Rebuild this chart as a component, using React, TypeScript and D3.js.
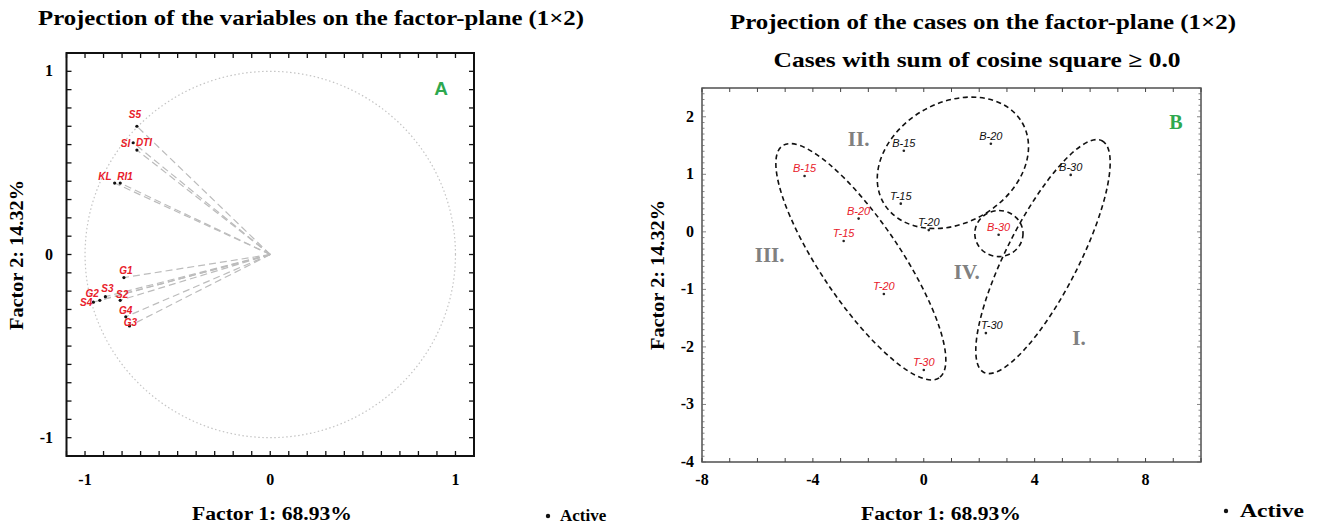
import React, { useEffect, useRef } from 'react'
import * as d3 from 'd3'

// ---- variables (left panel) ----
const varNames = ['S5', 'SI', 'DTI', 'KL', 'RI1', 'G1', 'S3', 'S2', 'G2', 'S4', 'G4', 'G3']
const varF1 = [-0.72, -0.74, -0.72, -0.84, -0.81, -0.79, -0.89, -0.81, -0.92, -0.955, -0.78, -0.76]
const varF2 = [0.70, 0.61, 0.57, 0.39, 0.39, -0.126, -0.23, -0.25, -0.25, -0.26, -0.34, -0.39]

// ---- cases (right panel) ----
const redNames = ['B-15', 'B-20', 'T-15', 'T-20', 'T-30', 'B-30']
const redF1 = [-4.3, -2.35, -2.89, -1.44, 0.0, 2.7]
const redF2 = [0.97, 0.23, -0.16, -1.08, -2.4, -0.05]
const blackNames = ['B-15', 'B-20', 'B-30', 'T-15', 'T-20', 'T-30']
const blackF1 = [-0.72, 2.42, 5.3, -0.83, 0.18, 2.24]
const blackF2 = [1.41, 1.53, 0.99, 0.49, 0.03, -1.76]

// cluster ellipses: centre in factor units, semi-axes in factor-1 units, screen rotation in degrees
const clusterNames = ['II.', 'III.', 'IV.', 'I.']
const clusterCx = [1.05, -2.27, 2.71, 4.3]
const clusterCy = [1.2, -0.52, -0.03, -0.43]
const clusterA = [2.89, 5.05, 0.87, 4.69]
const clusterB = [2.17, 1.44, 0.83, 1.3]
const clusterAngle = [-30, 56, 0, -63]
const clusterLabelX = [-2.35, -5.56, 1.55, 5.6]
const clusterLabelY = [1.62, -0.4, -0.7, -1.84]

const leftTicks = [-1, 0, 1]
const rightXTicks = [-8, -4, 0, 4, 8]
const rightYTicks = [2, 1, 0, -1, -2, -3, -4]

// label placement for the variable names [dx, dy, anchor]
const varLabelPos: Record<string, [number, number, string]> = {
    S5: [-2, -8, 'middle'], SI: [-3, 4, 'end'], DTI: [-1, -4, 'start'], KL: [-3, -3, 'end'],
    RI1: [-3, -3, 'start'], G1: [2, -4, 'middle'], S3: [2, -5, 'middle'], S2: [2, -2, 'middle'],
    G2: [-1, -3, 'end'], S4: [-1, 4, 'end'], G4: [0, -3, 'middle'], G3: [1, 0, 'middle']
}

const SERIF = "'Liberation Serif', 'Times New Roman', serif"
const SANS = "'Liberation Sans', Arial, sans-serif"
const RED = '#e8202a'
const GREEN = '#2ea84f'

export default function App() {
    const svgRef = useRef<SVGSVGElement>(null)

    useEffect(() => {
        if (!svgRef.current) return
        const svg = d3.select(svgRef.current)
        svg.selectAll('*').remove()

        const boldText = (g: any, x: number, y: number, txt: string, size: number, len?: number) => {
            const t = g.append('text').attr('x', x).attr('y', y).attr('text-anchor', 'middle')
                .attr('font-family', SERIF).attr('font-weight', 'bold').attr('font-size', size).text(txt)
            if (len) t.attr('textLength', len).attr('lengthAdjust', 'spacingAndGlyphs')
            return t
        }

        // ================= LEFT PANEL =================
        const xL = d3.scaleLinear().domain([-1.1, 1.1]).range([66.5, 474])
        const yL = d3.scaleLinear().domain([-1.1, 1.1]).range([456, 53])
        const gL = svg.append('g')

        boldText(svg, 311, 25, 'Projection of the variables on the factor-plane (1×2)', 21, 546)

        // unit circle
        const circ = d3.range(0, 361, 2).map(a => [Math.cos(a * Math.PI / 180), Math.sin(a * Math.PI / 180)])
        gL.append('path')
            .attr('d', d3.line().x(d => xL(d[0])).y(d => yL(d[1]))(circ as [number, number][]))
            .attr('fill', 'none').attr('stroke', '#c4c4c4').attr('stroke-width', 1.2)
            .attr('stroke-dasharray', '1.5,2.5')

        // vectors from origin
        varNames.forEach((n, i) => {
            gL.append('line')
                .attr('x1', xL(0)).attr('y1', yL(0)).attr('x2', xL(varF1[i])).attr('y2', yL(varF2[i]))
                .attr('stroke', '#bcbcbc').attr('stroke-width', 1.2).attr('stroke-dasharray', '7,4')
        })
        varNames.forEach((n, i) => {
            gL.append('circle').attr('cx', xL(varF1[i])).attr('cy', yL(varF2[i])).attr('r', 1.6).attr('fill', '#111')
            const p = varLabelPos[n]
            gL.append('text').attr('x', xL(varF1[i]) + p[0]).attr('y', yL(varF2[i]) + p[1])
                .attr('text-anchor', p[2]).attr('font-family', SANS).attr('font-style', 'italic')
                .attr('font-weight', 'bold').attr('font-size', 10).attr('fill', RED).text(n)
        })

        // frame and ticks
        gL.append('rect').attr('x', 66.5).attr('y', 53).attr('width', 474 - 66.5).attr('height', 456 - 53)
            .attr('fill', 'none').attr('stroke', '#111').attr('stroke-width', 2)
        const minorL = d3.range(-11, 12).map(v => v / 10)
        minorL.forEach(v => {
            gL.append('line').attr('x1', xL(v)).attr('x2', xL(v)).attr('y1', 456).attr('y2', 451).attr('stroke', '#111').attr('stroke-width', 1.3)
            gL.append('line').attr('x1', xL(v)).attr('x2', xL(v)).attr('y1', 53).attr('y2', 58).attr('stroke', '#111').attr('stroke-width', 1.3)
            gL.append('line').attr('y1', yL(v)).attr('y2', yL(v)).attr('x1', 66.5).attr('x2', 71.5).attr('stroke', '#111').attr('stroke-width', 1.3)
            gL.append('line').attr('y1', yL(v)).attr('y2', yL(v)).attr('x1', 474).attr('x2', 469).attr('stroke', '#111').attr('stroke-width', 1.3)
        })
        leftTicks.forEach(v => {
            boldText(gL, xL(v), 485, String(v), 16)
            gL.append('text').attr('x', 53).attr('y', yL(v) + 5).attr('text-anchor', 'end')
                .attr('font-family', SERIF).attr('font-weight', 'bold').attr('font-size', 16).text(v)
        })
        gL.append('text').attr('x', 441).attr('y', 95).attr('text-anchor', 'middle')
            .attr('font-family', SANS).attr('font-weight', 'bold').attr('font-size', 19).attr('fill', GREEN).text('A')

        boldText(gL, 272, 520, 'Factor 1: 68.93%', 18, 160)
        boldText(gL, 0, 0, 'Factor 2: 14.32%', 18, 150).attr('x', null).attr('y', null)
            .attr('transform', 'translate(23,255) rotate(-90)')
        gL.append('circle').attr('cx', 548).attr('cy', 516).attr('r', 2.2).attr('fill', '#111')
        gL.append('text').attr('x', 560).attr('y', 521)
            .attr('font-family', SERIF).attr('font-weight', 'bold').attr('font-size', 17).text('Active')

        // ================= RIGHT PANEL =================
        const xR = d3.scaleLinear().domain([-8, 10]).range([702, 1201])
        const yR = d3.scaleLinear().domain([-4, 2.5]).range([462, 88])
        const gR = svg.append('g')
        const unit = xR(1) - xR(0)

        boldText(svg, 983, 29, 'Projection of the cases on the factor-plane (1×2)', 21, 506)
        boldText(svg, 977, 67, 'Cases with sum of cosine square ≥ 0.0', 21, 407)

        gR.append('rect').attr('x', 702).attr('y', 88).attr('width', 1201 - 702).attr('height', 462 - 88)
            .attr('fill', 'none').attr('stroke', '#444').attr('stroke-width', 1.4)
        d3.range(-8, 11).forEach(v => {
            gR.append('line').attr('x1', xR(v)).attr('x2', xR(v)).attr('y1', 462).attr('y2', 458).attr('stroke', '#444')
            gR.append('line').attr('x1', xR(v)).attr('x2', xR(v)).attr('y1', 88).attr('y2', 92).attr('stroke', '#444')
        })
        d3.range(-40, 26).forEach(k => {
            const v = k / 10
            const len = k % 10 === 0 ? 4 : 2.5
            gR.append('line').attr('y1', yR(v)).attr('y2', yR(v)).attr('x1', 702).attr('x2', 702 + len).attr('stroke', '#666').attr('stroke-width', 0.8)
            gR.append('line').attr('y1', yR(v)).attr('y2', yR(v)).attr('x1', 1201).attr('x2', 1201 - len).attr('stroke', '#666').attr('stroke-width', 0.8)
        })
        rightXTicks.forEach(v => boldText(gR, xR(v), 485, String(v), 16))
        rightYTicks.forEach(v => {
            gR.append('text').attr('x', 694).attr('y', yR(v) + 5).attr('text-anchor', 'end')
                .attr('font-family', SERIF).attr('font-weight', 'bold').attr('font-size', 16).text(v)
        })

        // cluster ellipses
        clusterNames.forEach((n, i) => {
            gR.append('ellipse')
                .attr('transform', `translate(${xR(clusterCx[i])},${yR(clusterCy[i])}) rotate(${clusterAngle[i]})`)
                .attr('rx', clusterA[i] * unit).attr('ry', clusterB[i] * unit)
                .attr('fill', 'none').attr('stroke', '#111').attr('stroke-width', 1.6).attr('stroke-dasharray', '5,3.5')
            gR.append('text').attr('x', xR(clusterLabelX[i])).attr('y', yR(clusterLabelY[i]) + 7).attr('text-anchor', 'middle')
                .attr('font-family', SERIF).attr('font-weight', 'bold').attr('font-size', 21).attr('fill', '#808080').text(n)
        })

        const drawCases = (names: string[], f1: number[], f2: number[], color: string) => {
            names.forEach((n, i) => {
                gR.append('circle').attr('cx', xR(f1[i])).attr('cy', yR(f2[i])).attr('r', 1.3).attr('fill', '#222')
                const dx = color === '#111' && n === 'T-30' ? 6 : 0
                gR.append('text').attr('x', xR(f1[i]) + dx).attr('y', yR(f2[i]) - 4).attr('text-anchor', 'middle')
                    .attr('font-family', SANS).attr('font-style', 'italic').attr('font-size', 11)
                    .attr('fill', color).text(n)
            })
        }
        drawCases(redNames, redF1, redF2, RED)
        drawCases(blackNames, blackF1, blackF2, '#111')

        gR.append('text').attr('x', 1176).attr('y', 129).attr('text-anchor', 'middle')
            .attr('font-family', SERIF).attr('font-weight', 'bold').attr('font-size', 20).attr('fill', GREEN).text('B')

        boldText(gR, 941, 520, 'Factor 1: 68.93%', 18, 160)
        boldText(gR, 0, 0, 'Factor 2: 14.32%', 18, 150).attr('x', null).attr('y', null)
            .attr('transform', 'translate(664,275) rotate(-90)')
        gR.append('circle').attr('cx', 1226).attr('cy', 511).attr('r', 2.2).attr('fill', '#111')
        gR.append('text').attr('x', 1240).attr('y', 517)
            .attr('font-family', SERIF).attr('font-weight', 'bold').attr('font-size', 18)
            .attr('textLength', 64).attr('lengthAdjust', 'spacingAndGlyphs').text('Active')
    }, [])

    return (
        <svg ref={svgRef} width={1319} height={528} viewBox="0 0 1319 528"
            style={{ position: 'absolute', left: 0, top: 0, background: '#fff' }} />
    )
}
